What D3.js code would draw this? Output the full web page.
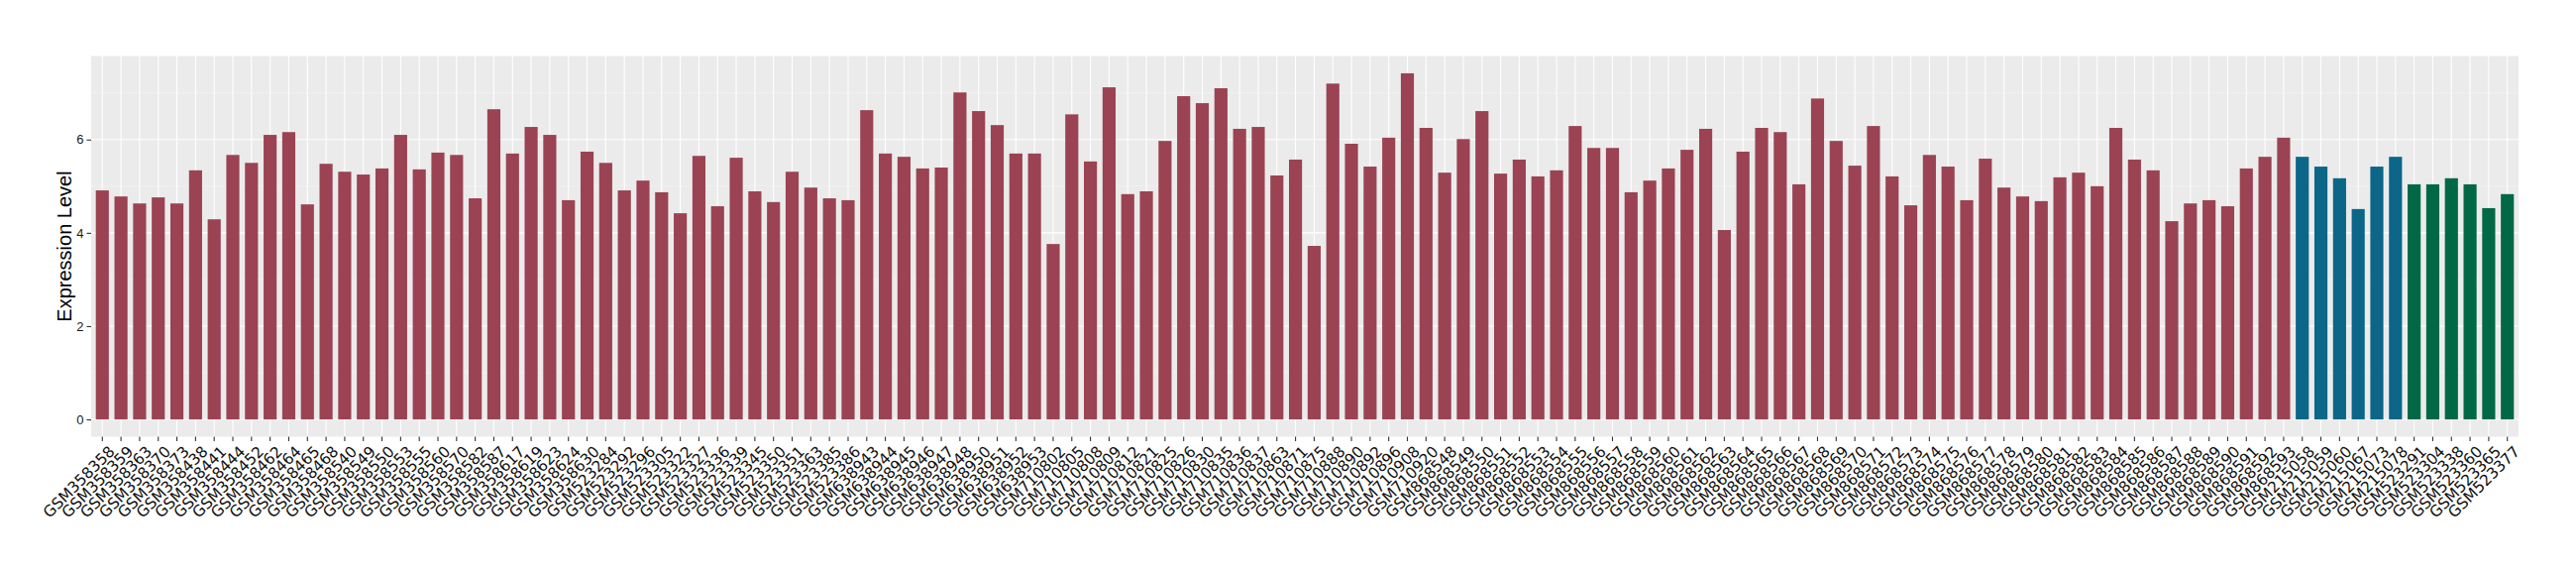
<!DOCTYPE html>
<html>
<head>
<meta charset="utf-8">
<script src="https://cdn.jsdelivr.net/npm/d3@7"></script>
<style>
  html, body { margin: 0; padding: 0; background: #fff; }
  svg { display: block; }
</style>
</head>
<body>
<div id="chart"></div>
<script>
// samples of the first series (dark red)
const redSamples = [
  "GSM358358", "GSM358359", "GSM358363", "GSM358370", "GSM358373", "GSM358438", "GSM358441", "GSM358444",
  "GSM358452", "GSM358462", "GSM358464", "GSM358465", "GSM358468", "GSM358540", "GSM358549", "GSM358550",
  "GSM358553", "GSM358555", "GSM358560", "GSM358570", "GSM358582", "GSM358587", "GSM358617", "GSM358619",
  "GSM358623", "GSM358624", "GSM358630",
  "GSM523284", "GSM523292", "GSM523296", "GSM523305", "GSM523322", "GSM523327", "GSM523336", "GSM523339",
  "GSM523345", "GSM523350", "GSM523351", "GSM523363", "GSM523385", "GSM523386",
  "GSM638943", "GSM638944", "GSM638945", "GSM638946", "GSM638947", "GSM638948", "GSM638950", "GSM638951",
  "GSM638952", "GSM638953",
  "GSM710802", "GSM710805", "GSM710808", "GSM710809", "GSM710812", "GSM710821", "GSM710825", "GSM710826",
  "GSM710830", "GSM710835", "GSM710836", "GSM710837", "GSM710863", "GSM710871", "GSM710875", "GSM710888",
  "GSM710890", "GSM710892", "GSM710896", "GSM710908", "GSM710920",
  "GSM868548", "GSM868549", "GSM868550", "GSM868551", "GSM868552", "GSM868553", "GSM868554", "GSM868555",
  "GSM868556", "GSM868557", "GSM868558", "GSM868559", "GSM868560", "GSM868561", "GSM868562", "GSM868563",
  "GSM868564", "GSM868565", "GSM868566", "GSM868567", "GSM868568", "GSM868569", "GSM868570", "GSM868571",
  "GSM868572", "GSM868573", "GSM868574", "GSM868575", "GSM868576", "GSM868577", "GSM868578", "GSM868579",
  "GSM868580", "GSM868581", "GSM868582", "GSM868583", "GSM868584", "GSM868585", "GSM868586", "GSM868587",
  "GSM868588", "GSM868589", "GSM868590", "GSM868591", "GSM868592", "GSM868593"
];
const redValues = [
  4.91, 4.78, 4.63, 4.76, 4.63, 5.34, 4.29, 5.67, 5.50, 6.10, 6.16, 4.61, 5.48, 5.31, 5.25, 5.38,
  6.10, 5.36, 5.72, 5.67, 4.74, 6.65, 5.70, 6.27, 6.10, 4.70, 5.74,
  5.50, 4.91, 5.12, 4.87, 4.42, 5.65, 4.57, 5.61, 4.89, 4.66, 5.31, 4.97, 4.74, 4.70,
  6.63, 5.70, 5.63, 5.38, 5.40, 7.01, 6.61, 6.31, 5.70, 5.70,
  3.76, 6.54, 5.53, 7.12, 4.83, 4.89, 5.97, 6.93, 6.78, 7.10, 6.23, 6.27, 5.23, 5.57, 3.72, 7.20,
  5.91, 5.42, 6.04, 7.42, 6.25,
  5.29, 6.01, 6.61, 5.27, 5.57, 5.21, 5.34, 6.29, 5.82, 5.82, 4.87, 5.12, 5.38, 5.78, 6.23, 4.06,
  5.74, 6.25, 6.16, 5.04, 6.88, 5.97, 5.44, 6.29, 5.21, 4.59, 5.67, 5.42, 4.70, 5.59, 4.97, 4.78,
  4.68, 5.19, 5.29, 5.00, 6.25, 5.57, 5.34, 4.25, 4.63, 4.70, 4.57, 5.38, 5.63, 6.04
];

// second series (blue)
const blueSamples = ["GSM215058", "GSM215059", "GSM215060", "GSM215067", "GSM215073", "GSM215078"];
const blueValues = [5.63, 5.42, 5.17, 4.51, 5.42, 5.63];

// third series (green)
const greenSamples = ["GSM523291", "GSM523304", "GSM523338", "GSM523360", "GSM523365", "GSM523377"];
const greenValues = [5.04, 5.04, 5.17, 5.04, 4.53, 4.83];

const yTicks = [0, 2, 4, 6];
const yMinorTicks = [1, 3, 5, 7];
const yTitle = "Expression Level";

const colors = { red: "#9b4352", blue: "#0b6688", green: "#016846" };

const width = 2600;
const height = 580;
const panel = { left: 92, right: 2542, top: 56.5, bottom: 440.5 };

const rows = [
  ...redSamples.map((s, i) => ({ sample: s, value: redValues[i], group: "red" })),
  ...blueSamples.map((s, i) => ({ sample: s, value: blueValues[i], group: "blue" })),
  ...greenSamples.map((s, i) => ({ sample: s, value: greenValues[i], group: "green" }))
];

const svg = d3.select("#chart")
  .append("svg")
  .attr("width", width)
  .attr("height", height)
  .style("background", "#fff");

// discrete scale, ggplot style 0.6 expansion and 0.7 bar width
const x = d3.scaleBand()
  .domain(rows.map(d => d.sample))
  .range([panel.left, panel.right])
  .paddingInner(0.3)
  .paddingOuter(0.25);

const yMax = d3.max(rows, d => d.value);
const y = d3.scaleLinear()
  .domain([-0.05 * yMax, yMax * 1.05])
  .range([panel.bottom, panel.top]);

// panel background
svg.append("rect")
  .attr("x", panel.left)
  .attr("y", panel.top)
  .attr("width", panel.right - panel.left)
  .attr("height", panel.bottom - panel.top)
  .attr("fill", "#ebebeb");

// grid
svg.append("g")
  .selectAll("line")
  .data(yMinorTicks)
  .join("line")
  .attr("x1", panel.left)
  .attr("x2", panel.right)
  .attr("y1", d => y(d))
  .attr("y2", d => y(d))
  .attr("stroke", "#f5f5f5")
  .attr("stroke-width", 0.6);

svg.append("g")
  .selectAll("line")
  .data(yTicks)
  .join("line")
  .attr("x1", panel.left)
  .attr("x2", panel.right)
  .attr("y1", d => y(d))
  .attr("y2", d => y(d))
  .attr("stroke", "#fff")
  .attr("stroke-width", 1.1);

svg.append("g")
  .selectAll("line")
  .data(rows)
  .join("line")
  .attr("x1", d => x(d.sample) + x.bandwidth() / 2)
  .attr("x2", d => x(d.sample) + x.bandwidth() / 2)
  .attr("y1", panel.top)
  .attr("y2", panel.bottom)
  .attr("stroke", "#fff")
  .attr("stroke-width", 1.1);

// bars
svg.append("g")
  .selectAll("rect")
  .data(rows)
  .join("rect")
  .attr("x", d => x(d.sample))
  .attr("width", x.bandwidth())
  .attr("y", d => y(d.value))
  .attr("height", d => y(0) - y(d.value))
  .attr("fill", d => colors[d.group]);

// y axis
const yAxis = svg.append("g")
  .attr("transform", `translate(${panel.left},0)`)
  .call(d3.axisLeft(y).tickValues(yTicks).tickSize(4.5).tickPadding(3));
yAxis.select(".domain").remove();
yAxis.selectAll(".tick line").attr("stroke", "#333").attr("stroke-width", 1.1);
yAxis.selectAll(".tick text")
  .attr("fill", "#1a1a1a")
  .style("font-family", "'Liberation Sans', Arial, sans-serif")
  .style("font-size", "13px");

// x axis
const xAxis = svg.append("g")
  .attr("transform", `translate(0,${panel.bottom})`)
  .call(d3.axisBottom(x).tickSize(4.5).tickFormat(""));
xAxis.select(".domain").remove();
xAxis.selectAll(".tick line").attr("stroke", "#333").attr("stroke-width", 1.1);

svg.append("g")
  .selectAll("text")
  .data(rows)
  .join("text")
  .attr("transform", d => `translate(${x(d.sample) + x.bandwidth() / 2 + 5.5},${panel.bottom + 8}) rotate(-45)`)
  .attr("text-anchor", "end")
  .attr("dy", "0.72em")
  .attr("fill", "#111")
  .style("font-family", "'DejaVu Sans', sans-serif")
  .style("font-size", "15.5px")
  .text(d => d.sample);

// y title
svg.append("text")
  .attr("transform", `translate(72,${(panel.top + panel.bottom) / 2}) rotate(-90)`)
  .attr("text-anchor", "middle")
  .attr("fill", "#000")
  .style("font-family", "'Liberation Sans', Arial, sans-serif")
  .style("font-size", "20px")
  .text(yTitle);
</script>
</body>
</html>
